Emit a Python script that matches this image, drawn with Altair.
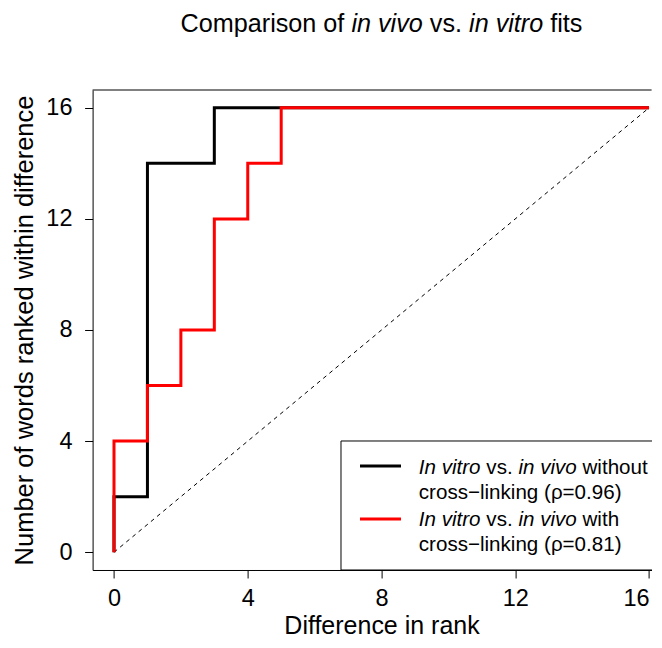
import altair as alt
import pandas as pd

# ---------------- data ----------------
title_parts = [("Comparison of", False), ("in vivo", True), ("vs.", False),
               ("in vitro", True), ("fits", False)]
x_title = "Difference in rank"
y_title = "Number of words ranked within difference"
tick_values = [0, 4, 8, 12, 16]

black_x = [0, 0, 1, 3, 16]
black_y = [0, 2, 14, 16, 16]
red_x = [0, 0, 1, 2, 3, 4, 5, 16]
red_y = [0, 4, 6, 8, 12, 14, 16, 16]
diag_x = [0, 16]
diag_y = [0, 16]

legend_black_lines = [
    [("In vitro", True), ("vs.", False), ("in vivo", True), ("without", False)],
    [("cross\u2212linking (\u03c1=0.96)", False)],
]
legend_red_lines = [
    [("In vitro", True), ("vs.", False), ("in vivo", True), ("with", False)],
    [("cross\u2212linking (\u03c1=0.81)", False)],
]

# ---------------- layout ----------------
FONT = "Liberation Sans"
W, H = 559, 480
PADL, PADT, PADB = 84.6, 82, 70
PXU = 33.44  # pixels per x unit (as in the reference)
XDOM = [-0.64, -0.64 + W / PXU]
YDOM = [-0.64, 16.64]
XC = (16.64 + 0.64) * PXU / 2  # centre of the full (R) plot region

HELV = {' ': 278, '.': 278, 'C': 722, 'I': 278, 'a': 556, 'f': 278, 'h': 556,
        'i': 222, 'm': 833, 'n': 556, 'o': 556, 'p': 556, 'r': 333, 's': 500,
        't': 278, 'u': 556, 'v': 500, 'w': 722, 'c': 500, 'l': 222, 'k': 500,
        'g': 556}


def text_width(t, size):
    return sum(HELV.get(ch, 556) for ch in t) * size / 1000.0


def seg_layers(parts, x0, y, size, center=False):
    space = HELV[' '] * size / 1000.0
    widths = [text_width(t, size) for t, _ in parts]
    total = sum(widths) + space * (len(parts) - 1)
    x = x0 - total / 2 if center else x0
    out = []
    for (t, it), w in zip(parts, widths):
        out.append(
            alt.Chart(alt.Data(values=[{"t": t}]))
            .mark_text(align="left", baseline="alphabetic", font=FONT,
                       fontSize=size, fontStyle="italic" if it else "normal",
                       color="black")
            .encode(x=alt.value(x), y=alt.value(y), text="t:N")
        )
        x += w + space
    return out


xscale = alt.Scale(domain=XDOM, nice=False, zero=False)
yscale = alt.Scale(domain=YDOM, nice=False, zero=False)

x_axis = alt.Axis(values=tick_values, title=x_title, grid=False, format="d",
                  domainColor="black", domainWidth=1, tickColor="black",
                  tickSize=8, tickWidth=1, labelFont=FONT, labelFontSize=23.5,
                  labelColor="black", labelPadding=28, labelBaseline="alphabetic",
                  labelFlush=5, labelOverlap=False,
                  titleFont=FONT, titleFontSize=25, titleFontWeight="normal",
                  titleColor="black", titleX=XC, titleY=64,
                  titleBaseline="alphabetic", titleAlign="center")
y_axis = alt.Axis(values=tick_values, title=y_title, grid=False, format="d",
                  domainColor="black", domainWidth=1, tickColor="black",
                  tickSize=8, tickWidth=1, labelFont=FONT, labelFontSize=23.5,
                  labelColor="black", labelPadding=12.6, labelAlign="right",
                  labelBaseline="middle", labelFlush=False, labelOverlap=False,
                  titleFont=FONT, titleFontSize=25.5, titleFontWeight="normal",
                  titleColor="black", titleAngle=270, titleX=-59.6, titleY=H / 2,
                  titleBaseline="alphabetic", titleAlign="center")

df_black = pd.DataFrame({"x": black_x, "y": black_y, "i": range(len(black_x))})
df_red = pd.DataFrame({"x": red_x, "y": red_y, "i": range(len(red_x))})
df_diag = pd.DataFrame({"x": diag_x, "y": diag_y, "i": range(len(diag_x))})

diag = alt.Chart(df_diag).mark_line(color="black", strokeWidth=1, strokeDash=[4, 4]).encode(
    x=alt.X("x:Q", scale=xscale, axis=x_axis),
    y=alt.Y("y:Q", scale=yscale, axis=y_axis),
    order="i:Q")

black = alt.Chart(df_black).mark_line(color="black", strokeWidth=3, interpolate="step-after",
                                      strokeJoin="miter", strokeCap="butt").encode(
    x=alt.X("x:Q", scale=xscale, axis=x_axis),
    y=alt.Y("y:Q", scale=yscale, axis=y_axis),
    order="i:Q")

red = alt.Chart(df_red).mark_line(color="#FF0000", strokeWidth=3, interpolate="step-after",
                                  strokeJoin="miter", strokeCap="butt").encode(
    x=alt.X("x:Q", scale=xscale, axis=x_axis),
    y=alt.Y("y:Q", scale=yscale, axis=y_axis),
    order="i:Q")

one = alt.Data(values=[{"a": 1}])
top_frame = alt.Chart(one).mark_rule(color="black", strokeWidth=1).encode(
    x=alt.value(0), x2=alt.value(W), y=alt.value(0))

# legend (bottom-right, as in R's legend())
LX0, LY0 = 248.4, 351
leg_box = alt.Chart(one).mark_rect(fill="white", stroke="black", strokeWidth=1).encode(
    x=alt.value(LX0), x2=alt.value(W + 10), y=alt.value(LY0), y2=alt.value(H))
leg_black = alt.Chart(one).mark_rule(color="black", strokeWidth=3).encode(
    x=alt.value(267.4), x2=alt.value(308.4), y=alt.value(376))
leg_red = alt.Chart(one).mark_rule(color="#FF0000", strokeWidth=3).encode(
    x=alt.value(267.4), x2=alt.value(308.4), y=alt.value(429))

TX = 326.2
LS = 20.6
texts = []
texts += seg_layers(legend_black_lines[0], TX, 384, LS)
texts += seg_layers(legend_black_lines[1], TX, 409, LS)
texts += seg_layers(legend_red_lines[0], TX, 436, LS)
texts += seg_layers(legend_red_lines[1], TX, 461, LS)
texts += seg_layers(title_parts, XC, -58, 25.2, center=True)

chart = alt.layer(diag, black, red, top_frame, leg_box, leg_black, leg_red, *texts).properties(
    width=W, height=H,
    autosize=alt.AutoSizeParams(type="none"),
    padding={"left": PADL, "top": PADT, "right": 0, "bottom": PADB},
    background="white",
).configure_view(stroke=None)

chart.save("out.html", embed_options={"renderer": "svg", "actions": False})
